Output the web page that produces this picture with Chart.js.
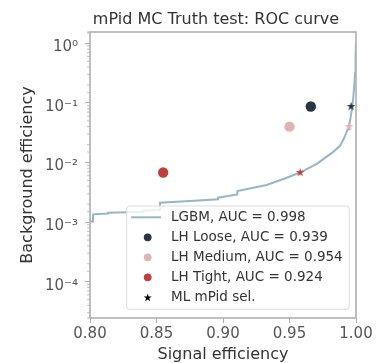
<!DOCTYPE html>
<html>
<head>
<meta charset="utf-8">
<script src="https://cdn.jsdelivr.net/npm/chart.js@4"></script>
<style>
  html, body { margin: 0; padding: 0; background: #fff; }
  #wrap { width: 387px; height: 363px; }
</style>
</head>
<body>
<div id="wrap"><canvas id="roc" width="387" height="363"></canvas></div>
<script>
// LGBM ROC curve
const lgbmSigEff = [0.8000, 0.8023, 0.8023, 0.8135, 0.8135, 0.8286, 0.8399, 0.8399, 0.8526, 0.8526,
  0.8752, 0.8962, 0.8962, 0.9108, 0.9108, 0.9329, 0.9479, 0.9579, 0.9705, 0.9829,
  0.9880, 0.9906, 0.9930, 0.9940, 0.9947, 0.9959, 0.9968, 0.9974, 0.9980, 0.9987,
  0.9993, 0.9996, 0.9998, 1.0000];
const lgbmBkgEff = [0.00102, 0.00102, 0.00135, 0.00139, 0.00144, 0.00146, 0.00149, 0.00155, 0.00159, 0.00212,
  0.00226, 0.00242, 0.00257, 0.00292, 0.00332, 0.00419, 0.00556, 0.00679, 0.0095, 0.0151,
  0.0191, 0.0245, 0.0327, 0.036, 0.0399, 0.056, 0.0766, 0.096, 0.127, 0.2,
  0.314, 0.47, 0.637, 1.0];
const lgbmAuc = 0.998;

// LH working points
const lhNames = ['LH Loose', 'LH Medium', 'LH Tight'];
const lhAuc = [0.939, 0.954, 0.924];
const lhSigEff = [0.966, 0.950, 0.855];
const lhBkgEff = [0.087, 0.040, 0.0068];

// ML mPid selections matching each LH point
const mlLabel = 'ML mPid sel.';
const mlSigEff = [0.9963, 0.9947, 0.958];
const mlBkgEff = [0.087, 0.040, 0.0068];

const xTickStep = 0.05;

const lhColors = ['#2b3444', '#e0b4b4', '#bf403b'];
const curveColor = '#97b5c7';
const frameColor = '#b0b0b0';

const supers = { '-': '\u207B', '0': '\u2070', '1': '\u00B9', '2': '\u00B2', '3': '\u00B3', '4': '\u2074', '5': '\u2075' };
const isPow10 = (v) => { const e = Math.log10(v); return Math.abs(e - Math.round(e)) < 1e-6; };
const powLabel = (v) => '10' + String(Math.round(Math.log10(v))).split('').map(c => supers[c]).join('');

const drawStar = (ctx, cx, cy, r, color) => {
  ctx.beginPath();
  for (let i = 0; i < 10; i++) {
    const rad = i % 2 === 0 ? r : r * 0.4;
    const a = -Math.PI / 2 + i * Math.PI / 5;
    const px = cx + rad * Math.cos(a), py = cy + rad * Math.sin(a);
    if (i === 0) ctx.moveTo(px, py); else ctx.lineTo(px, py);
  }
  ctx.closePath();
  ctx.fillStyle = color;
  ctx.fill();
};

const makeStar = (color, r) => {
  const c = document.createElement('canvas');
  c.width = c.height = Math.ceil(r * 2 + 2);
  drawStar(c.getContext('2d'), c.width / 2, c.height / 2, r, color);
  return c;
};
const starImgs = lhColors.map(c => makeStar(c, 4.5));

const toPoints = (xs, ys) => xs.map((x, i) => ({ x: x, y: ys[i] }));

const datasets = [
  {
    label: `LGBM, AUC = ${lgbmAuc.toFixed(3)}`,
    mark: 'line',
    data: toPoints(lgbmSigEff, lgbmBkgEff),
    showLine: true,
    borderColor: curveColor,
    borderWidth: 2,
    pointRadius: 0,
    order: 10
  },
  ...lhNames.map((name, i) => ({
    label: `${name}, AUC = ${lhAuc[i].toFixed(3)}`,
    mark: 'circle',
    data: [{ x: lhSigEff[i], y: lhBkgEff[i] }],
    backgroundColor: lhColors[i],
    borderWidth: 0,
    pointRadius: 5.2,
    order: 5
  })),
  {
    label: mlLabel,
    mark: 'star',
    data: toPoints(mlSigEff, mlBkgEff),
    pointStyle: (ctx) => starImgs[ctx.dataIndex],
    order: 1
  }
];

const rocDecor = {
  id: 'rocDecor',
  afterLayout(chart) {
    // centre title a bit left of the axes centre, as in the reference
    const t = chart.titleBlock;
    if (t) { t.left = 216 - 160; t.right = 216 + 160; }
  },
  afterDatasetsDraw(chart) {
    const ctx = chart.ctx, a = chart.chartArea;
    ctx.save();
    // minor log ticks
    ctx.strokeStyle = frameColor;
    ctx.lineWidth = 0.8;
    chart.scales.y.ticks.forEach(t => {
      if (isPow10(t.value)) return;
      const y = chart.scales.y.getPixelForValue(t.value);
      ctx.beginPath();
      ctx.moveTo(a.left - 3, y);
      ctx.lineTo(a.left, y);
      ctx.stroke();
    });
    ctx.lineWidth = 1.6;
    ctx.strokeRect(a.left, a.top, a.right - a.left, a.bottom - a.top);
    ctx.restore();
  },
  afterDraw(chart) {
    const ctx = chart.ctx, a = chart.chartArea;
    const dss = chart.data.datasets;
    ctx.save();
    ctx.font = "13.5px 'DejaVu Sans'";
    const textW = Math.max(...dss.map(d => ctx.measureText(d.label).width));
    const w = 44.4 + textW + 6.6;
    const h = 11.3 + (dss.length - 1) * 20 + 12;
    const x0 = a.right - 6.7 - w;
    const y0 = a.bottom - 8.7 - h;
    ctx.beginPath();
    ctx.roundRect(x0, y0, w, h, 3);
    ctx.fillStyle = 'rgba(255,255,255,0.8)';
    ctx.fill();
    ctx.strokeStyle = '#dcdcdc';
    ctx.lineWidth = 1;
    ctx.stroke();
    dss.forEach((d, i) => {
      const cy = y0 + 11.3 + i * 20;
      const mx = x0 + 21;
      if (d.mark === 'line') {
        ctx.strokeStyle = d.borderColor;
        ctx.lineWidth = 2;
        ctx.beginPath();
        ctx.moveTo(x0 + 4.4, cy);
        ctx.lineTo(x0 + 34.4, cy);
        ctx.stroke();
      } else if (d.mark === 'circle') {
        ctx.fillStyle = d.backgroundColor;
        ctx.beginPath();
        ctx.arc(mx, cy, 3.9, 0, Math.PI * 2);
        ctx.fill();
      } else {
        drawStar(ctx, mx, cy + 0.5, 4.2, '#000');
      }
      ctx.fillStyle = '#333';
      ctx.textAlign = 'left';
      ctx.textBaseline = 'middle';
      ctx.fillText(d.label, x0 + 44.4, cy + 0.5);
    });
    ctx.restore();
  }
};

Chart.defaults.font.family = "'DejaVu Sans', sans-serif";

new Chart(document.getElementById('roc'), {
  type: 'scatter',
  data: { datasets: datasets },
  plugins: [rocDecor],
  options: {
    responsive: false,
    animation: false,
    events: [],
    layout: { padding: { left: 0, right: 31, top: 0, bottom: 0 } },
    plugins: {
      legend: { display: false },
      tooltip: { enabled: false },
      title: {
        display: true,
        text: 'mPid MC Truth test: ROC curve',
        color: '#333',
        font: { size: 16, weight: 'normal' },
        padding: { top: 9.9, bottom: 2.9 }
      }
    },
    scales: {
      x: {
        type: 'linear',
        min: 0.8,
        max: 1.0,
        afterFit: (s) => { s.height = 45; },
        border: { display: false },
        grid: { drawOnChartArea: false, tickLength: 5, tickColor: frameColor, tickWidth: 1 },
        ticks: {
          stepSize: xTickStep,
          color: '#555',
          font: { size: 15 },
          padding: 2,
          maxRotation: 0,
          callback: (v) => Number(v).toFixed(2)
        },
        title: {
          display: true,
          text: 'Signal efficiency',
          color: '#333',
          font: { size: 16 },
          padding: { top: 0, bottom: -1 }
        }
      },
      y: {
        type: 'logarithmic',
        min: 2.46e-5,
        max: 1.55,
        afterFit: (s) => { s.width = 90; },
        border: { display: false },
        grid: {
          drawOnChartArea: false,
          tickLength: 5,
          tickWidth: 1,
          tickColor: (c) => (c.tick && isPow10(c.tick.value)) ? frameColor : 'rgba(0,0,0,0)'
        },
        ticks: {
          autoSkip: false,
          color: '#555',
          font: { size: 15 },
          padding: 7,
          labelOffset: 4,
          callback: (v) => isPow10(v) ? powLabel(v) : ''
        },
        title: {
          display: true,
          text: 'Background efficiency',
          color: '#333',
          font: { size: 16 },
          padding: { top: 18.2, bottom: 0 }
        }
      }
    }
  }
});
</script>
</body>
</html>
